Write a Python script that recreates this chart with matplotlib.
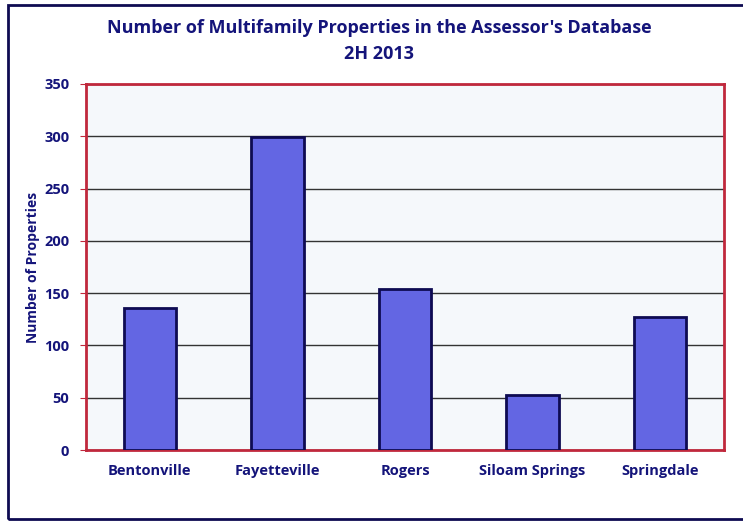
import matplotlib.pyplot as plt
import numpy as np
from matplotlib.patches import Rectangle

cities = ['Bentonville', 'Fayetteville', 'Rogers', 'Siloam Springs', 'Springdale']
properties = [136, 299, 154, 53, 127]

navy = '#14147a'
bar_color = '#6366e3'
edge_color = '#0e0b52'
spine_color = '#c0283c'

plt.rcParams['font.family'] = ['Open Sans', 'DejaVu Sans']
plt.rcParams['font.weight'] = 'bold'

fig = plt.figure(figsize=(7.43, 5.22), dpi=100)
# outer frame around the whole chart
fig.patches.append(Rectangle((8/743, 3/522), 745/743, 514/522, transform=fig.transFigure,
                             fill=False, edgecolor=edge_color, linewidth=2))

ax = fig.add_axes([86/743, (522-450)/522, 638/743, 366/522])
ax.set_facecolor('#f5f8fb')
x = np.arange(len(cities))
ax.bar(x, properties, width=0.41, color=bar_color, edgecolor=edge_color, linewidth=2, zorder=3)

ax.set_xlim(-0.5, len(cities) - 0.5)
ax.set_ylim(0, 350)
ax.set_yticks(np.arange(0, 351, 50))
ax.set_xticks(x)
ax.set_xticklabels(cities, fontsize=10.5, color=navy, fontweight='bold')
ax.tick_params(axis='x', length=0, pad=10)
ax.tick_params(axis='y', length=4, color=spine_color, labelsize=10.5, labelcolor=navy, pad=8)
for lab in ax.get_yticklabels():
    lab.set_fontweight('bold')
ax.grid(axis='y', color='#333333', linewidth=1, zorder=0)
for s in ax.spines.values():
    s.set_color(spine_color)
    s.set_linewidth(2)

ax.set_ylabel('Number of Properties', fontsize=10, color=navy, fontweight='bold', labelpad=3)
fig.text(0.51, 0.947, "Number of Multifamily Properties in the Assessor's Database",
         ha='center', va='center', fontsize=13, color=navy, fontweight='bold')
fig.text(0.51, 0.897, '2H 2013', ha='center', va='center', fontsize=13, color=navy, fontweight='bold')

plt.savefig('out.png', dpi=100)
